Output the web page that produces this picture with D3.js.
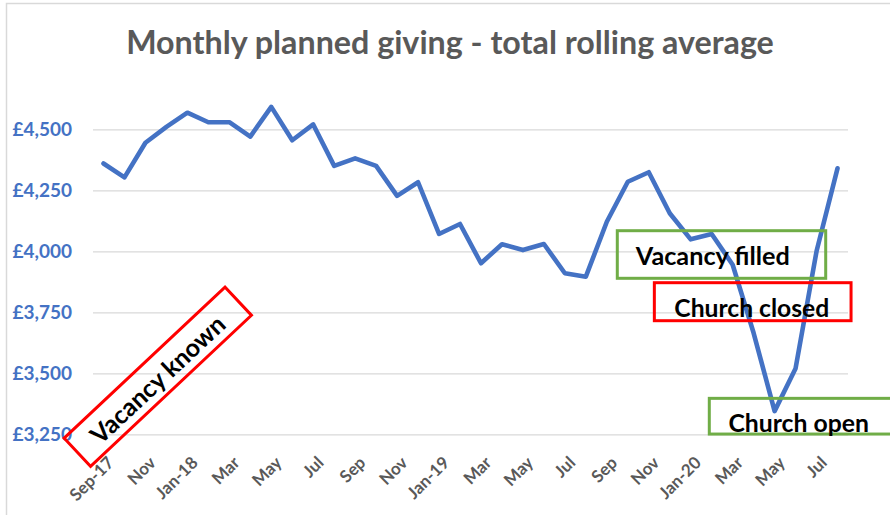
<!DOCTYPE html>
<html>
<head>
<meta charset="utf-8">
<script src="https://cdn.jsdelivr.net/npm/d3@7"></script>
<style>
  body { margin: 0; background: #fff; }
  svg { display: block; font-family: Lato, "Open Sans", sans-serif; }
</style>
</head>
<body>
<svg width="890" height="515"></svg>
<script>
// Data
const months = [
    "Sep-17","Oct-17","Nov-17","Dec-17","Jan-18","Feb-18","Mar-18","Apr-18","May-18","Jun-18","Jul-18","Aug-18",
    "Sep-18","Oct-18","Nov-18","Dec-18","Jan-19","Feb-19","Mar-19","Apr-19","May-19","Jun-19","Jul-19","Aug-19",
    "Sep-19","Oct-19","Nov-19","Dec-19","Jan-20","Feb-20","Mar-20","Apr-20","May-20","Jun-20","Jul-20","Aug-20"
]
const giving = [
    4360, 4303, 4445, 4510, 4568, 4529, 4529, 4470, 4592, 4455, 4520, 4350,
    4381, 4350, 4227, 4283, 4071, 4112, 3951, 4029, 4005, 4030, 3910, 3896,
    4121, 4285, 4324, 4156, 4049, 4071, 3945, 3665, 3345, 3520, 4000, 4340
]
const tickLabels = [
    "Sep-17","","Nov","","Jan-18","","Mar","","May","","Jul","",
    "Sep","","Nov","","Jan-19","","Mar","","May","","Jul","",
    "Sep","","Nov","","Jan-20","","Mar","","May","","Jul",""
]
const yTicks = [3250, 3500, 3750, 4000, 4250, 4500]
const yDomain = [3250, 4750]
const title = "Monthly planned giving - total rolling average"
const noteTexts = ["Vacancy known", "Vacancy filled", "Church closed", "Church open"]

// Layout
const config = {
    plot: {left: 93, right: 848, top: 68.3, bottom: 434.3},
    blue: "#4472C4",
    grey: "#595959",
    grid: "#D9D9D9",
    red: "#FF0000",
    green: "#70AD47"
}

// annotation shapes (pixel placement, like Excel shapes)
const notes = [
    {text: noteTexts[0], color: config.red, cx: 157.8, cy: 376.7, w: 220.7, h: 38.6, angle: -43.2, tx: -2, ty: 11, tw: 174},
    {text: noteTexts[1], color: config.green, cx: 721.5, cy: 254.5, w: 208.4, h: 47.6, angle: 0, tx: -8.7, ty: 10.5, tw: 154},
    {text: noteTexts[2], color: config.red, cx: 752.7, cy: 301.7, w: 196.7, h: 38, angle: 0, tx: -0.9, ty: 15.6, tw: 155},
    {text: noteTexts[3], color: config.green, cx: 810, cy: 416.2, w: 201.4, h: 35.7, angle: 0, tx: -11.3, ty: 15.5, tw: 140.7}
]

function fitText(sel, width) {
    const base = 20
    sel.attr("font-size", base)
    const len = sel.node().getComputedTextLength()
    sel.attr("font-size", base * width / len)
}

function drawFrame(svg) {
    svg.append("rect")
        .attr("x", 6.5).attr("y", 3.5)
        .attr("width", 1000).attr("height", 1000)
        .attr("fill", "none")
        .attr("stroke", config.grid)
        .attr("stroke-width", 1.5)

    const t = svg.append("text")
        .attr("x", 450).attr("y", 54)
        .attr("text-anchor", "middle")
        .attr("font-weight", 700)
        .attr("fill", config.grey)
        .text(title)
    fitText(t, 648)
}

function drawAxes(svg, x, y) {
    const p = config.plot

    const yAxis = d3.axisLeft(y)
        .tickValues(yTicks)
        .tickSize(-(p.right - p.left))
        .tickPadding(21)
        .tickFormat(d => "£" + d3.format(",")(d))

    const gy = svg.append("g")
        .attr("class", "y-axis")
        .attr("transform", "translate(" + p.left + ",0)")
        .call(yAxis)
    gy.select(".domain").remove()
    gy.selectAll("line").attr("stroke", config.grid).attr("stroke-width", 1.3)
    gy.selectAll("text")
        .attr("fill", config.blue)
        .attr("font-size", 19)
        .attr("font-weight", 700)
        .attr("font-family", "Lato")
        .attr("dy", "0.34em")

    const xAxis = d3.axisBottom(x)
        .tickSize(0)
        .tickFormat((d, i) => tickLabels[i])

    const gx = svg.append("g")
        .attr("class", "x-axis")
        .attr("transform", "translate(0," + p.bottom + ")")
        .call(xAxis)
    gx.select(".domain").remove()
    gx.selectAll("text")
        .attr("fill", config.grey)
        .attr("font-size", 17)
        .attr("font-weight", 700)
        .attr("font-family", "Lato")
        .attr("text-anchor", "end")
        .attr("x", 0).attr("y", 0).attr("dy", 0)
        .attr("transform", "translate(11.5,29.5) rotate(-45)")
}

function drawLine(svg, x, y) {
    const line = d3.line()
        .x((d, i) => x(months[i]) + x.bandwidth() / 2)
        .y(d => y(d))

    svg.append("path")
        .datum(giving)
        .attr("d", line)
        .attr("fill", "none")
        .attr("stroke", config.blue)
        .attr("stroke-width", 4.6)
        .attr("stroke-linejoin", "round")
        .attr("stroke-linecap", "round")
}

function drawNotes(svg) {
    const g = svg.append("g").attr("class", "notes")
        .selectAll("g")
        .data(notes)
        .join("g")
        .attr("transform", d => "translate(" + d.cx + "," + d.cy + ") rotate(" + d.angle + ")")

    g.append("rect")
        .attr("x", d => -d.w / 2).attr("y", d => -d.h / 2)
        .attr("width", d => d.w).attr("height", d => d.h)
        .attr("fill", "none")
        .attr("stroke", d => d.color)
        .attr("stroke-width", 3)

    g.append("text")
        .attr("x", d => d.tx).attr("y", d => d.ty)
        .attr("text-anchor", "middle")
        .attr("font-weight", 700)
        .attr("fill", "#000")
        .text(d => d.text)
        .each(function(d) { fitText(d3.select(this), d.tw) })
}

function render() {
    const svg = d3.select("svg")
    const p = config.plot

    const x = d3.scaleBand().domain(months).range([p.left, p.right]).padding(0)
    const y = d3.scaleLinear().domain(yDomain).range([p.bottom, p.top])

    drawFrame(svg)
    drawAxes(svg, x, y)
    drawLine(svg, x, y)
    drawNotes(svg)
}

render()
</script>
</body>
</html>
